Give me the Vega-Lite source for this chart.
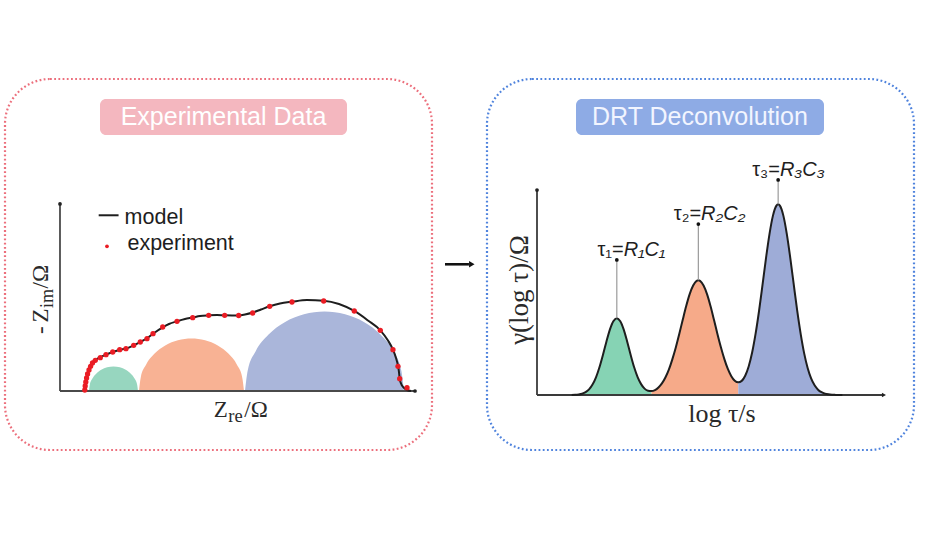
{
  "$schema": "https://vega.github.io/schema/vega-lite/v6.json",
  "padding": {"left": 3, "top": 77, "right": 0, "bottom": 0},
  "bounds": "flush",
  "spacing": 55,
  "background": "white",
  "resolve": {"scale": {"x": "independent", "y": "independent", "color": "independent"}},
  "config": {"axis": {"disable": true}},
  "datasets": {
    "semi": [
      {"arc": "R1C1", "x": 8.17, "y": 0}, {"arc": "R1C1", "x": 8.40, "y": 1.79}, {"arc": "R1C1", "x": 9.09, "y": 3.45}, {"arc": "R1C1", "x": 10.19, "y": 4.88}, {"arc": "R1C1", "x": 11.62, "y": 5.98}, {"arc": "R1C1", "x": 13.28, "y": 6.66}, {"arc": "R1C1", "x": 15.07, "y": 6.9}, {"arc": "R1C1", "x": 16.86, "y": 6.66}, {"arc": "R1C1", "x": 18.52, "y": 5.98}, {"arc": "R1C1", "x": 19.95, "y": 4.88}, {"arc": "R1C1", "x": 21.05, "y": 3.45}, {"arc": "R1C1", "x": 21.74, "y": 1.79}, {"arc": "R1C1", "x": 21.97, "y": 0},
      {"arc": "R2C2", "x": 22.25, "y": 0}, {"arc": "R2C2", "x": 22.75, "y": 3.83}, {"arc": "R2C2", "x": 24.23, "y": 7.40}, {"arc": "R2C2", "x": 26.58, "y": 10.46}, {"arc": "R2C2", "x": 29.64, "y": 12.81}, {"arc": "R2C2", "x": 33.21, "y": 14.29}, {"arc": "R2C2", "x": 37.04, "y": 14.79}, {"arc": "R2C2", "x": 40.87, "y": 14.29}, {"arc": "R2C2", "x": 44.44, "y": 12.81}, {"arc": "R2C2", "x": 47.50, "y": 10.46}, {"arc": "R2C2", "x": 49.85, "y": 7.40}, {"arc": "R2C2", "x": 51.33, "y": 3.83}, {"arc": "R2C2", "x": 51.83, "y": 0},
      {"arc": "R3C3", "x": 52.12, "y": 0}, {"arc": "R3C3", "x": 52.88, "y": 5.79}, {"arc": "R3C3", "x": 55.12, "y": 11.20}, {"arc": "R3C3", "x": 58.68, "y": 15.83}, {"arc": "R3C3", "x": 63.31, "y": 19.39}, {"arc": "R3C3", "x": 68.72, "y": 21.63}, {"arc": "R3C3", "x": 74.51, "y": 22.39}, {"arc": "R3C3", "x": 80.30, "y": 21.63}, {"arc": "R3C3", "x": 85.71, "y": 19.39}, {"arc": "R3C3", "x": 90.34, "y": 15.83}, {"arc": "R3C3", "x": 93.90, "y": 11.20}, {"arc": "R3C3", "x": 96.14, "y": 5.79}, {"arc": "R3C3", "x": 96.90, "y": 0}
    ],
    "nyq": [
      {"i": 1, "x": 6.96, "y": 0}, {"i": 2, "x": 7.04, "y": 1.13}, {"i": 3, "x": 7.32, "y": 2.82}, {"i": 4, "x": 7.75, "y": 4.51}, {"i": 5, "x": 8.17, "y": 6.20}, {"i": 6, "x": 9.01, "y": 7.89}, {"i": 7, "x": 10.14, "y": 8.87}, {"i": 8, "x": 11.55, "y": 9.58}, {"i": 9, "x": 12.96, "y": 10.23}, {"i": 10, "x": 14.85, "y": 10.99}, {"i": 11, "x": 16.82, "y": 11.63}, {"i": 12, "x": 18.59, "y": 11.97}, {"i": 13, "x": 20.76, "y": 12.87}, {"i": 14, "x": 22.62, "y": 13.80}, {"i": 15, "x": 24.51, "y": 14.85}, {"i": 16, "x": 26.20, "y": 16.14}, {"i": 17, "x": 28.93, "y": 17.94}, {"i": 18, "x": 30.70, "y": 18.87}, {"i": 19, "x": 32.96, "y": 19.63}, {"i": 20, "x": 35.21, "y": 20.28}, {"i": 21, "x": 37.38, "y": 20.70}, {"i": 22, "x": 39.44, "y": 21.13}, {"i": 23, "x": 41.89, "y": 21.32}, {"i": 24, "x": 44.23, "y": 21.41}, {"i": 25, "x": 46.39, "y": 21.32}, {"i": 26, "x": 48.45, "y": 21.27}, {"i": 27, "x": 50.34, "y": 21.27}, {"i": 28, "x": 52.11, "y": 21.55}, {"i": 29, "x": 54.28, "y": 22.11}, {"i": 30, "x": 56.62, "y": 22.96}, {"i": 31, "x": 59.07, "y": 23.86}, {"i": 32, "x": 61.97, "y": 24.65}, {"i": 33, "x": 65.35, "y": 25.15}, {"i": 34, "x": 69.58, "y": 25.63}, {"i": 35, "x": 74.28, "y": 25.44}, {"i": 36, "x": 78.59, "y": 24.51}, {"i": 37, "x": 82.90, "y": 22.54}, {"i": 38, "x": 86.76, "y": 19.86}, {"i": 39, "x": 90.23, "y": 17.10}, {"i": 40, "x": 92.39, "y": 14.23}, {"i": 41, "x": 93.80, "y": 11.63}, {"i": 42, "x": 94.65, "y": 9.30}, {"i": 43, "x": 95.21, "y": 7.15}, {"i": 44, "x": 95.49, "y": 5.35}, {"i": 45, "x": 95.69, "y": 3.46}, {"i": 46, "x": 96.06, "y": 2.11}, {"i": 47, "x": 96.76, "y": 0.99}, {"i": 48, "x": 97.75, "y": 0.28}, {"i": 49, "x": 98.87, "y": 0}
    ],
    "exp": [
      {"x": 6.99, "y": 0.28}, {"x": 7.10, "y": 1.41}, {"x": 7.27, "y": 2.54}, {"x": 7.49, "y": 3.66}, {"x": 7.77, "y": 4.79}, {"x": 8.17, "y": 5.92}, {"x": 8.62, "y": 6.96}, {"x": 9.15, "y": 7.89}, {"x": 9.94, "y": 8.65}, {"x": 11.35, "y": 9.38}, {"x": 12.96, "y": 10.23}, {"x": 14.85, "y": 10.99}, {"x": 16.82, "y": 11.63}, {"x": 18.59, "y": 11.92}, {"x": 20.76, "y": 12.87}, {"x": 22.62, "y": 13.80}, {"x": 24.51, "y": 14.73}, {"x": 26.20, "y": 16.14}, {"x": 28.93, "y": 18.03}, {"x": 32.96, "y": 19.63}, {"x": 37.38, "y": 20.65}, {"x": 41.89, "y": 21.32}, {"x": 46.39, "y": 21.32}, {"x": 50.34, "y": 21.27}, {"x": 54.28, "y": 21.97}, {"x": 59.07, "y": 23.86}, {"x": 65.35, "y": 25.07}, {"x": 74.28, "y": 25.35}, {"x": 82.90, "y": 22.54}, {"x": 90.23, "y": 17.10}, {"x": 93.80, "y": 11.63}, {"x": 95.21, "y": 6.96}, {"x": 95.69, "y": 3.46}, {"x": 97.75, "y": 0.93}
    ],
    "drt": [
      {"p": "τ1", "x": 10, "g": 0.05}, {"p": "τ1", "x": 11, "g": 0.1}, {"p": "τ1", "x": 12, "g": 0.27}, {"p": "τ1", "x": 13, "g": 0.63}, {"p": "τ1", "x": 14, "g": 1.38}, {"p": "τ1", "x": 15, "g": 2.75}, {"p": "τ1", "x": 16, "g": 5.1}, {"p": "τ1", "x": 17, "g": 8.6}, {"p": "τ1", "x": 18, "g": 13.5}, {"p": "τ1", "x": 19, "g": 19.5}, {"p": "τ1", "x": 20, "g": 26.0}, {"p": "τ1", "x": 21, "g": 31.9}, {"p": "τ1", "x": 22, "g": 36.0}, {"p": "τ1", "x": 23, "g": 37.5}, {"p": "τ1", "x": 24, "g": 36.0}, {"p": "τ1", "x": 25, "g": 31.9}, {"p": "τ1", "x": 26, "g": 26.0}, {"p": "τ1", "x": 27, "g": 19.5}, {"p": "τ1", "x": 28, "g": 13.5}, {"p": "τ1", "x": 29, "g": 8.7}, {"p": "τ1", "x": 30, "g": 5.3}, {"p": "τ1", "x": 31, "g": 3.1}, {"p": "τ1", "x": 32, "g": 2.1}, {"p": "τ1", "x": 33, "g": 1.9},
      {"p": "τ2", "x": 33, "g": 1.9}, {"p": "τ2", "x": 34, "g": 2.4}, {"p": "τ2", "x": 35, "g": 3.7}, {"p": "τ2", "x": 36, "g": 5.64}, {"p": "τ2", "x": 37, "g": 8.55}, {"p": "τ2", "x": 38, "g": 12.4}, {"p": "τ2", "x": 39, "g": 17.4}, {"p": "τ2", "x": 40, "g": 23.2}, {"p": "τ2", "x": 41, "g": 29.8}, {"p": "τ2", "x": 42, "g": 36.7}, {"p": "τ2", "x": 43, "g": 43.4}, {"p": "τ2", "x": 44, "g": 49.2}, {"p": "τ2", "x": 45, "g": 53.4}, {"p": "τ2", "x": 46, "g": 55.7}, {"p": "τ2", "x": 46.5, "g": 56.0}, {"p": "τ2", "x": 47, "g": 55.7}, {"p": "τ2", "x": 48, "g": 53.4}, {"p": "τ2", "x": 49, "g": 49.2}, {"p": "τ2", "x": 50, "g": 43.4}, {"p": "τ2", "x": 51, "g": 36.7}, {"p": "τ2", "x": 52, "g": 29.8}, {"p": "τ2", "x": 53, "g": 23.3}, {"p": "τ2", "x": 54, "g": 17.5}, {"p": "τ2", "x": 55, "g": 12.7}, {"p": "τ2", "x": 56, "g": 9.2}, {"p": "τ2", "x": 57, "g": 7.0}, {"p": "τ2", "x": 58, "g": 6.2},
      {"p": "τ3", "x": 58, "g": 6.2}, {"p": "τ3", "x": 59, "g": 6.9}, {"p": "τ3", "x": 60, "g": 9.4}, {"p": "τ3", "x": 61, "g": 13.9}, {"p": "τ3", "x": 62, "g": 20.7}, {"p": "τ3", "x": 63, "g": 29.9}, {"p": "τ3", "x": 64, "g": 41.1}, {"p": "τ3", "x": 65, "g": 53.8}, {"p": "τ3", "x": 66, "g": 66.8}, {"p": "τ3", "x": 67, "g": 78.5}, {"p": "τ3", "x": 68, "g": 87.5}, {"p": "τ3", "x": 69, "g": 92.4}, {"p": "τ3", "x": 69.5, "g": 93.0}, {"p": "τ3", "x": 70, "g": 92.4}, {"p": "τ3", "x": 71, "g": 87.5}, {"p": "τ3", "x": 72, "g": 78.5}, {"p": "τ3", "x": 73, "g": 66.8}, {"p": "τ3", "x": 74, "g": 53.8}, {"p": "τ3", "x": 75, "g": 41.0}, {"p": "τ3", "x": 76, "g": 29.7}, {"p": "τ3", "x": 77, "g": 20.3}, {"p": "τ3", "x": 78, "g": 13.2}, {"p": "τ3", "x": 79, "g": 8.1}, {"p": "τ3", "x": 80, "g": 4.72}, {"p": "τ3", "x": 81, "g": 2.6}, {"p": "τ3", "x": 82, "g": 1.36}, {"p": "τ3", "x": 83, "g": 0.67}, {"p": "τ3", "x": 84, "g": 0.32}, {"p": "τ3", "x": 85, "g": 0.14}, {"p": "τ3", "x": 86, "g": 0.06}, {"p": "τ3", "x": 88, "g": 0}
    ],
    "peaks": [
      {"x": 23.0, "top": 37.5, "dot": 65.9, "lx": 25.0, "ly": 67.9, "tau": "τ₁=", "rc": "R₁C₁"},
      {"x": 46.5, "top": 56.0, "dot": 83.4, "lx": 47.3, "ly": 85.5, "tau": "τ₂=", "rc": "R₂C₂"},
      {"x": 69.5, "top": 93.0, "dot": 104.9, "lx": 70.0, "ly": 107.0, "tau": "τ₃=", "rc": "R₃C₃"}
    ]
  },
  "hconcat": [
    {
      "width": 427,
      "height": 371,
      "view": {"stroke": "#ec6f7c", "strokeWidth": 2.2, "strokeDash": [1.8, 2.4], "cornerRadius": 45, "fill": "white"},
      "layer": [
        {
          "data": {"values": [{"x": 11.27, "x2": 80.85, "y": 72.11, "y2": 82.25}]},
          "mark": {"type": "rect", "color": "#f4b7bf", "cornerRadius": 6},
          "encoding": {
            "x": {"field": "x", "type": "quantitative", "scale": {"domain": [-15.49, 104.79], "nice": false, "zero": false}},
            "x2": {"field": "x2"},
            "y": {"field": "y", "type": "quantitative", "scale": {"domain": [-16.62, 87.89], "nice": false, "zero": false}},
            "y2": {"field": "y2"}
          }
        },
        {
          "data": {"values": [{"t": "Experimental Data", "tx": 46.06, "ty": 77.18}]},
          "mark": {"type": "text", "font": "Liberation Sans", "fontSize": 25, "color": "#ffffff", "align": "center", "baseline": "middle"},
          "encoding": {
            "x": {"field": "tx", "type": "quantitative"},
            "y": {"field": "ty", "type": "quantitative"},
            "text": {"field": "t"}
          }
        },
        {
          "data": {"name": "semi"},
          "mark": {"type": "area", "interpolate": "monotone", "opacity": 1},
          "encoding": {
            "x": {"field": "x", "type": "quantitative"},
            "y": {"field": "y", "type": "quantitative", "stack": null},
            "color": {"field": "arc", "type": "nominal", "scale": {"domain": ["R1C1", "R2C2", "R3C3"], "range": ["#97d6bf", "#f8b294", "#aab6da"]}, "legend": null}
          }
        },
        {
          "data": {"values": [{"x": 0, "y": 0, "x2": 0, "y2": 52.68}, {"x": 0, "y": 0, "x2": 100, "y2": 0}]},
          "mark": {"type": "rule", "color": "#4a4a4a", "strokeWidth": 1.8},
          "encoding": {
            "x": {"field": "x", "type": "quantitative"},
            "x2": {"field": "x2"},
            "y": {"field": "y", "type": "quantitative"},
            "y2": {"field": "y2"}
          }
        },
        {
          "data": {"values": [{"x": 0, "y": 52.68}, {"x": 100, "y": 0}]},
          "mark": {"type": "point", "filled": true, "color": "#222222", "size": 14, "opacity": 1},
          "encoding": {
            "x": {"field": "x", "type": "quantitative"},
            "y": {"field": "y", "type": "quantitative"}
          }
        },
        {
          "data": {"name": "nyq"},
          "mark": {"type": "line", "color": "#1e1e1e", "strokeWidth": 2, "interpolate": "monotone"},
          "encoding": {
            "x": {"field": "x", "type": "quantitative"},
            "y": {"field": "y", "type": "quantitative"},
            "order": {"field": "i"}
          }
        },
        {
          "data": {"name": "exp"},
          "mark": {"type": "point", "filled": true, "color": "#ea1c24", "size": 28, "opacity": 1},
          "encoding": {
            "x": {"field": "x", "type": "quantitative"},
            "y": {"field": "y", "type": "quantitative"}
          }
        },
        {
          "data": {"values": [{"x": 10.9, "x2": 16.5, "y": 49.5}]},
          "mark": {"type": "rule", "color": "#1e1e1e", "strokeWidth": 2},
          "encoding": {
            "x": {"field": "x", "type": "quantitative"},
            "x2": {"field": "x2"},
            "y": {"field": "y", "type": "quantitative"}
          }
        },
        {
          "data": {"values": [{"x": 13.24, "y": 40.76}]},
          "mark": {"type": "point", "filled": true, "color": "#ea1c24", "size": 14, "opacity": 1},
          "encoding": {
            "x": {"field": "x", "type": "quantitative"},
            "y": {"field": "y", "type": "quantitative"}
          }
        },
        {
          "data": {"values": [{"x": 18.2, "y": 48.8, "t": "model"}, {"x": 19.0, "y": 41.5, "t": "experiment"}]},
          "mark": {"type": "text", "font": "Liberation Sans", "fontSize": 21.5, "color": "#1e1e1e", "align": "left", "baseline": "middle"},
          "encoding": {
            "x": {"field": "x", "type": "quantitative"},
            "y": {"field": "y", "type": "quantitative"},
            "text": {"field": "t"}
          }
        },
        {
          "data": {"values": [{"x": 43.3, "y": -7.32, "t": "Z"}, {"x": 51.9, "y": -7.32, "t": "/Ω"}]},
          "mark": {"type": "text", "font": "Liberation Serif", "fontSize": 23, "color": "#2a2a2a", "align": "left", "baseline": "alphabetic"},
          "encoding": {
            "x": {"field": "x", "type": "quantitative"},
            "y": {"field": "y", "type": "quantitative"},
            "text": {"field": "t"}
          }
        },
        {
          "data": {"values": [{"x": 47.4, "y": -8.73, "t": "re"}]},
          "mark": {"type": "text", "font": "Liberation Serif", "fontSize": 18.5, "color": "#2a2a2a", "align": "left", "baseline": "alphabetic"},
          "encoding": {
            "x": {"field": "x", "type": "quantitative"},
            "y": {"field": "y", "type": "quantitative"},
            "text": {"field": "t"}
          }
        },
        {
          "data": {"values": [{"x": -3.46, "y": 16.06, "t": "-"}, {"x": -3.46, "y": 19.3, "t": "Z"}, {"x": -3.46, "y": 28.87, "t": "/Ω"}]},
          "mark": {"type": "text", "font": "Liberation Serif", "fontSize": 23, "color": "#2a2a2a", "align": "left", "baseline": "alphabetic", "angle": 270},
          "encoding": {
            "x": {"field": "x", "type": "quantitative"},
            "y": {"field": "y", "type": "quantitative"},
            "text": {"field": "t"}
          }
        },
        {
          "data": {"values": [{"x": -1.97, "y": 23.4, "t": "im"}]},
          "mark": {"type": "text", "font": "Liberation Serif", "fontSize": 18, "color": "#2a2a2a", "align": "left", "baseline": "alphabetic", "angle": 270},
          "encoding": {
            "x": {"field": "x", "type": "quantitative"},
            "y": {"field": "y", "type": "quantitative"},
            "text": {"field": "t"}
          }
        },
        {
          "data": {"values": [{"x": 108.45, "x2": 115.2, "y": 35.7}]},
          "mark": {"type": "rule", "color": "#111111", "strokeWidth": 2.6},
          "encoding": {
            "x": {"field": "x", "type": "quantitative"},
            "x2": {"field": "x2"},
            "y": {"field": "y", "type": "quantitative"}
          }
        },
        {
          "data": {"values": [{"x": 116.0, "y": 35.7}]},
          "mark": {"type": "point", "shape": "triangle-right", "filled": true, "color": "#111111", "size": 40, "opacity": 1},
          "encoding": {
            "x": {"field": "x", "type": "quantitative"},
            "y": {"field": "y", "type": "quantitative"}
          }
        }
      ]
    },
    {
      "width": 427,
      "height": 371,
      "view": {"stroke": "#4f83dd", "strokeWidth": 2.2, "strokeDash": [1.8, 2.4], "cornerRadius": 45, "fill": "white"},
      "layer": [
        {
          "data": {"values": [{"x": 11.24, "x2": 82.71, "y": 126.8, "y2": 144.4}]},
          "mark": {"type": "rect", "color": "#8eabe5", "cornerRadius": 6},
          "encoding": {
            "x": {"field": "x", "type": "quantitative", "scale": {"domain": [-14.41, 108.65], "nice": false, "zero": false}},
            "x2": {"field": "x2"},
            "y": {"field": "y", "type": "quantitative", "scale": {"domain": [-26.83, 154.15], "nice": false, "zero": false}},
            "y2": {"field": "y2"}
          }
        },
        {
          "data": {"values": [{"t": "DRT Deconvolution", "tx": 46.97, "ty": 135.6}]},
          "mark": {"type": "text", "font": "Liberation Sans", "fontSize": 25, "color": "#f2f5ff", "align": "center", "baseline": "middle"},
          "encoding": {
            "x": {"field": "tx", "type": "quantitative"},
            "y": {"field": "ty", "type": "quantitative"},
            "text": {"field": "t"}
          }
        },
        {
          "data": {"name": "drt"},
          "mark": {"type": "area", "interpolate": "monotone", "opacity": 1},
          "encoding": {
            "x": {"field": "x", "type": "quantitative"},
            "y": {"field": "g", "type": "quantitative", "stack": null},
            "color": {"field": "p", "type": "nominal", "scale": {"domain": ["τ1", "τ2", "τ3"], "range": ["#86d3b4", "#f6aa89", "#9eacd7"]}, "legend": null}
          }
        },
        {
          "data": {"values": [{"x": 0, "y": 0, "x2": 0, "y2": 100}, {"x": 0, "y": 0, "x2": 100, "y2": 0}]},
          "mark": {"type": "rule", "color": "#3a3a3a", "strokeWidth": 1.8},
          "encoding": {
            "x": {"field": "x", "type": "quantitative"},
            "x2": {"field": "x2"},
            "y": {"field": "y", "type": "quantitative"},
            "y2": {"field": "y2"}
          }
        },
        {
          "data": {"name": "drt"},
          "mark": {"type": "line", "color": "#1e1e1e", "strokeWidth": 2, "interpolate": "monotone"},
          "encoding": {
            "x": {"field": "x", "type": "quantitative"},
            "y": {"field": "g", "type": "quantitative", "stack": null}
          }
        },
        {
          "data": {"values": [{"x": 0, "y": 100}]},
          "mark": {"type": "point", "filled": true, "color": "#222222", "size": 14, "opacity": 1},
          "encoding": {
            "x": {"field": "x", "type": "quantitative"},
            "y": {"field": "y", "type": "quantitative"}
          }
        },
        {
          "data": {"values": [{"x": 100, "y": 0}]},
          "mark": {"type": "point", "shape": "triangle-right", "filled": true, "color": "#222222", "size": 22, "opacity": 1},
          "encoding": {
            "x": {"field": "x", "type": "quantitative"},
            "y": {"field": "y", "type": "quantitative"}
          }
        },
        {
          "data": {"name": "peaks"},
          "mark": {"type": "rule", "color": "#9a9a9a", "strokeWidth": 1.2},
          "encoding": {
            "x": {"field": "x", "type": "quantitative"},
            "y": {"field": "top", "type": "quantitative"},
            "y2": {"field": "dot"}
          }
        },
        {
          "data": {"name": "peaks"},
          "mark": {"type": "point", "filled": true, "color": "#111111", "size": 14, "opacity": 1},
          "encoding": {
            "x": {"field": "x", "type": "quantitative"},
            "y": {"field": "dot", "type": "quantitative"}
          }
        },
        {
          "data": {"name": "peaks"},
          "mark": {"type": "text", "font": "Liberation Sans", "fontSize": 20, "color": "#1e1e1e", "align": "right", "baseline": "alphabetic"},
          "encoding": {
            "x": {"field": "lx", "type": "quantitative"},
            "y": {"field": "ly", "type": "quantitative"},
            "text": {"field": "tau"}
          }
        },
        {
          "data": {"name": "peaks"},
          "mark": {"type": "text", "font": "Liberation Sans", "fontSize": 20, "fontStyle": "italic", "color": "#1e1e1e", "align": "left", "baseline": "alphabetic"},
          "encoding": {
            "x": {"field": "lx", "type": "quantitative"},
            "y": {"field": "ly", "type": "quantitative"},
            "text": {"field": "rc"}
          }
        },
        {
          "data": {"values": [{"x": 53.3, "y": -9.3, "t": "log τ/s"}]},
          "mark": {"type": "text", "font": "Liberation Serif", "fontSize": 26, "color": "#2a2a2a", "align": "center", "baseline": "middle"},
          "encoding": {
            "x": {"field": "x", "type": "quantitative"},
            "y": {"field": "y", "type": "quantitative"},
            "text": {"field": "t"}
          }
        },
        {
          "data": {"values": [{"x": -4.9, "y": 51.2, "t": "γ(log τ)/Ω"}]},
          "mark": {"type": "text", "font": "Liberation Serif", "fontSize": 27, "color": "#2a2a2a", "align": "center", "baseline": "middle", "angle": 270},
          "encoding": {
            "x": {"field": "x", "type": "quantitative"},
            "y": {"field": "y", "type": "quantitative"},
            "text": {"field": "t"}
          }
        }
      ]
    }
  ]
}
